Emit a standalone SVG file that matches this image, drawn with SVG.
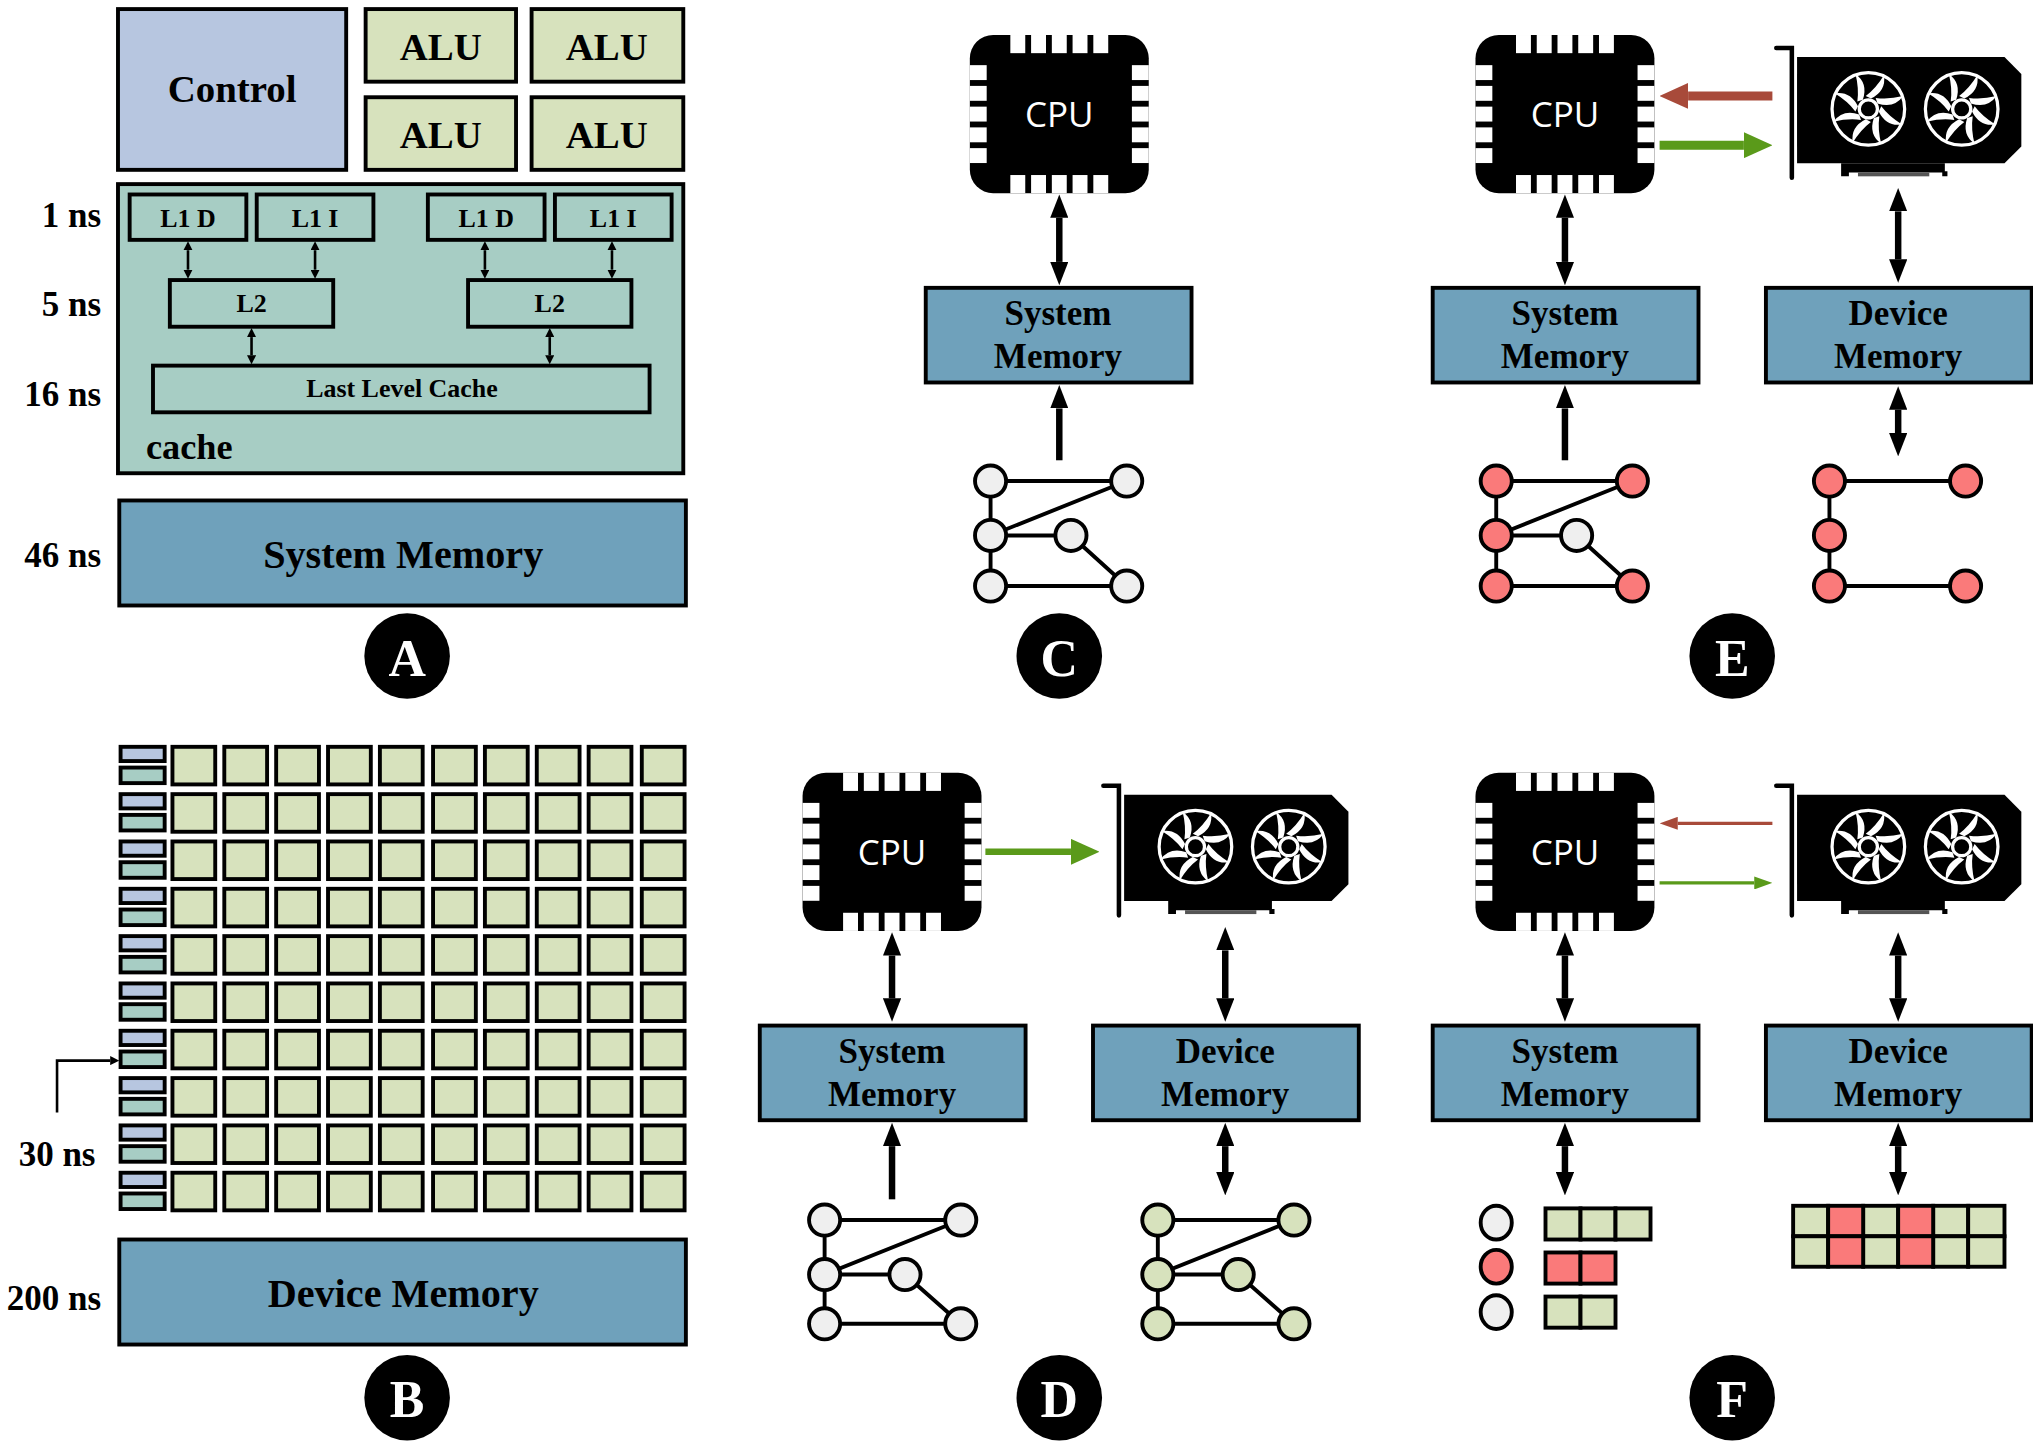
<svg xmlns="http://www.w3.org/2000/svg" xmlns:xlink="http://www.w3.org/1999/xlink" width="2033" height="1442" viewBox="0 0 2033 1442">
<style>
.b{stroke:#000;stroke-width:3}
.ctl{fill:#b7c6e0}.alu{fill:#d7e2bd}.cch{fill:#a7cdc4}.mem{fill:#6fa1bb}
.red{fill:#fa7a7a}.wht{fill:#efefef}
.t{font-family:"Liberation Serif",serif;font-weight:bold;fill:#000;text-anchor:middle}
.ar{stroke:#000;stroke-width:5;fill:none}
.sa{stroke:#000;stroke-width:2;fill:none}
.e{stroke:#000;stroke-width:3;fill:none}
</style>
<defs>
<marker id="ah" viewBox="0 0 18 14" markerWidth="18" markerHeight="14" refX="0" refY="7" orient="auto-start-reverse" markerUnits="userSpaceOnUse"><path d="M0,0 L18,7 L0,14 Z" fill="#000"/></marker>
<marker id="sh" viewBox="0 0 7 7" markerWidth="7" markerHeight="7" refX="0" refY="3.5" orient="auto-start-reverse" markerUnits="userSpaceOnUse"><path d="M0,0 L7,3.5 L0,7 Z" fill="#000"/></marker>
<marker id="rh" viewBox="0 0 22 20" markerWidth="22" markerHeight="20" refX="0" refY="10" orient="auto" markerUnits="userSpaceOnUse"><path d="M0,0 L22,10 L0,20 Z" fill="#a84a3a"/></marker>
<marker id="gh" viewBox="0 0 22 20" markerWidth="22" markerHeight="20" refX="0" refY="10" orient="auto" markerUnits="userSpaceOnUse"><path d="M0,0 L22,10 L0,20 Z" fill="#5a9a1a"/></marker>
<marker id="rs" viewBox="0 0 14 10" markerWidth="14" markerHeight="10" refX="0" refY="5" orient="auto" markerUnits="userSpaceOnUse"><path d="M0,0 L14,5 L0,10 Z" fill="#a84a3a"/></marker>
<marker id="gs" viewBox="0 0 14 10" markerWidth="14" markerHeight="10" refX="0" refY="5" orient="auto" markerUnits="userSpaceOnUse"><path d="M0,0 L14,5 L0,10 Z" fill="#5a9a1a"/></marker>
<g id="cpu">
<rect x="-69" y="-61" width="138" height="122" rx="18" fill="#000"/>
<g fill="#fff">
<rect x="-37.75" y="-61" width="11.5" height="14"/><rect x="-21.75" y="-61" width="11.5" height="14"/><rect x="-5.75" y="-61" width="11.5" height="14"/><rect x="10.25" y="-61" width="11.5" height="14"/><rect x="26.25" y="-61" width="11.5" height="14"/>
<rect x="-37.75" y="47" width="11.5" height="14"/><rect x="-21.75" y="47" width="11.5" height="14"/><rect x="-5.75" y="47" width="11.5" height="14"/><rect x="10.25" y="47" width="11.5" height="14"/><rect x="26.25" y="47" width="11.5" height="14"/>
<rect x="-69" y="-37.75" width="13" height="11.5"/><rect x="-69" y="-21.75" width="13" height="11.5"/><rect x="-69" y="-5.75" width="13" height="11.5"/><rect x="-69" y="10.25" width="13" height="11.5"/><rect x="-69" y="26.25" width="13" height="11.5"/>
<rect x="56" y="-37.75" width="13" height="11.5"/><rect x="56" y="-21.75" width="13" height="11.5"/><rect x="56" y="-5.75" width="13" height="11.5"/><rect x="56" y="10.25" width="13" height="11.5"/><rect x="56" y="26.25" width="13" height="11.5"/>
</g>
<text x="0" y="10" font-family="'Open Sans',sans-serif" font-size="27" fill="#fff" text-anchor="middle">CPU</text>
</g>
<g id="fan">
<circle r="28" fill="none" stroke="#fff" stroke-width="2.5"/>
<circle r="7" fill="none" stroke="#fff" stroke-width="2.5"/>
<g id="bl"><path d="M2,-8 Q14,-14 12,-26 Q6,-16 -2,-10 Z" fill="#fff"/></g>
<use xlink:href="#bl" transform="rotate(45)"/><use xlink:href="#bl" transform="rotate(90)"/><use xlink:href="#bl" transform="rotate(135)"/><use xlink:href="#bl" transform="rotate(180)"/><use xlink:href="#bl" transform="rotate(225)"/><use xlink:href="#bl" transform="rotate(270)"/><use xlink:href="#bl" transform="rotate(315)"/>
</g>
<g id="gpu">
<path d="M0,2 H12 V102" fill="none" stroke="#000" stroke-width="3.5" stroke-linecap="round"/>
<path d="M16,9 H176 L189,22 V78 L176,91 H16 Z" fill="#000"/>
<use xlink:href="#fan" x="71" y="49"/><use xlink:href="#fan" x="143" y="49"/>
<path d="M50,91 H130 V97 H132 V101 H128 V98 H56 V101 H50 Z" fill="#000"/>
<rect x="63" y="98" width="55" height="3" fill="#555"/>
</g>
</defs>
<g transform="scale(1.29656)">
<!-- Panel A -->
<g id="panelA">
<rect class="b ctl" x="91" y="7" width="176" height="124"/>
<text class="t" x="179" y="79" font-size="30">Control</text>
<rect class="b alu" x="282" y="7" width="116" height="56"/><text class="t" x="340" y="46" font-size="30">ALU</text>
<rect class="b alu" x="410" y="7" width="117" height="56"/><text class="t" x="468" y="46" font-size="30">ALU</text>
<rect class="b alu" x="282" y="75" width="116" height="56"/><text class="t" x="340" y="114" font-size="30">ALU</text>
<rect class="b alu" x="410" y="75" width="117" height="56"/><text class="t" x="468" y="114" font-size="30">ALU</text>
<rect class="b cch" x="91" y="142" width="436" height="223"/>
<rect class="b cch" x="100" y="150" width="90" height="35"/><text class="t" x="145" y="175" font-size="20">L1 D</text>
<rect class="b cch" x="198" y="150" width="90" height="35"/><text class="t" x="243" y="175" font-size="20">L1 I</text>
<rect class="b cch" x="330" y="150" width="90" height="35"/><text class="t" x="375" y="175" font-size="20">L1 D</text>
<rect class="b cch" x="428" y="150" width="90" height="35"/><text class="t" x="473" y="175" font-size="20">L1 I</text>
<rect class="b cch" x="131" y="216" width="126" height="36"/><text class="t" x="194" y="241" font-size="20">L2</text>
<rect class="b cch" x="361" y="216" width="126" height="36"/><text class="t" x="424" y="241" font-size="20">L2</text>
<rect class="b cch" x="118" y="282" width="383" height="36"/><text class="t" x="310" y="306" font-size="20">Last Level Cache</text>
<text class="t" x="146" y="354" font-size="28">cache</text>
<rect class="b mem" x="92" y="386" width="437" height="81"/>
<text class="t" x="311" y="438" font-size="31">System Memory</text>
<g class="t" font-size="27" text-anchor="end" style="text-anchor:end">
<text x="78" y="175">1 ns</text><text x="78" y="244">5 ns</text><text x="78" y="313">16 ns</text><text x="78" y="437">46 ns</text>
</g>
</g>
<!-- Panel B -->
<g id="panelB">
<g id="row">
<rect class="b ctl" x="93" y="576" width="34" height="11" stroke-width="2.5"/>
<rect class="b cch" x="93" y="592" width="34" height="12" stroke-width="2.5"/>
<g class="b alu">
<rect x="133" y="576" width="33" height="29"/><rect x="173" y="576" width="33" height="29"/><rect x="213" y="576" width="33" height="29"/><rect x="253" y="576" width="33" height="29"/><rect x="293" y="576" width="33" height="29"/><rect x="334" y="576" width="33" height="29"/><rect x="374" y="576" width="33" height="29"/><rect x="414" y="576" width="33" height="29"/><rect x="454" y="576" width="33" height="29"/><rect x="495" y="576" width="33" height="29"/>
</g>
</g>
<use xlink:href="#row" y="36.5"/><use xlink:href="#row" y="73"/><use xlink:href="#row" y="109.5"/><use xlink:href="#row" y="146"/><use xlink:href="#row" y="182.5"/><use xlink:href="#row" y="219"/><use xlink:href="#row" y="255.5"/><use xlink:href="#row" y="292"/><use xlink:href="#row" y="328.5"/>
<rect class="b mem" x="92" y="956" width="437" height="81"/>
<text class="t" x="311" y="1008" font-size="31">Device Memory</text>
<text class="t" x="44" y="899" font-size="27">30 ns</text>
<text class="t" x="78" y="1010" font-size="27" style="text-anchor:end">200 ns</text>
</g>
<!-- Labels -->
<g id="labels">
<circle cx="314" cy="506" r="33"/><text x="314" y="521" class="t" font-size="40" fill="#fff" style="fill:#fff">A</text>
<circle cx="817" cy="506" r="33"/><text x="817" y="521" class="t" font-size="40" style="fill:#fff">C</text>
<circle cx="1336" cy="506" r="33"/><text x="1336" y="521" class="t" font-size="40" style="fill:#fff">E</text>
<circle cx="314" cy="1078" r="33"/><text x="314" y="1093" class="t" font-size="40" style="fill:#fff">B</text>
<circle cx="817" cy="1078" r="33"/><text x="817" y="1093" class="t" font-size="40" style="fill:#fff">D</text>
<circle cx="1336" cy="1078" r="33"/><text x="1336" y="1093" class="t" font-size="40" style="fill:#fff">F</text>
</g>
<!-- Nodes C/D/E/F -->
<g id="cpuC"><use xlink:href="#cpu" x="817" y="88"/></g>
<g id="cpuE"><use xlink:href="#cpu" x="1207" y="88"/></g>
<g id="cpuD"><use xlink:href="#cpu" x="688" y="657"/></g>
<g id="cpuF"><use xlink:href="#cpu" x="1207" y="657"/></g>
<g id="gpuE"><use xlink:href="#gpu" x="1370" y="35"/></g>
<g id="gpuD"><use xlink:href="#gpu" x="851" y="604"/></g>
<g id="gpuF"><use xlink:href="#gpu" x="1370" y="604"/></g>
<g id="memC"><rect class="b mem" x="714" y="222" width="205" height="73"/><text class="t" x="816" y="251" font-size="27">System</text><text class="t" x="816" y="284" font-size="27">Memory</text></g>
<g id="memE"><rect class="b mem" x="1105" y="222" width="205" height="73"/><text class="t" x="1207" y="251" font-size="27">System</text><text class="t" x="1207" y="284" font-size="27">Memory</text></g>
<g id="devE"><rect class="b mem" x="1362" y="222" width="205" height="73"/><text class="t" x="1464" y="251" font-size="27">Device</text><text class="t" x="1464" y="284" font-size="27">Memory</text></g>
<g id="memD"><rect class="b mem" x="586" y="791" width="205" height="73"/><text class="t" x="688" y="820" font-size="27">System</text><text class="t" x="688" y="853" font-size="27">Memory</text></g>
<g id="devD"><rect class="b mem" x="843" y="791" width="205" height="73"/><text class="t" x="945" y="820" font-size="27">Device</text><text class="t" x="945" y="853" font-size="27">Memory</text></g>
<g id="memF"><rect class="b mem" x="1105" y="791" width="205" height="73"/><text class="t" x="1207" y="820" font-size="27">System</text><text class="t" x="1207" y="853" font-size="27">Memory</text></g>
<g id="devF"><rect class="b mem" x="1362" y="791" width="205" height="73"/><text class="t" x="1464" y="820" font-size="27">Device</text><text class="t" x="1464" y="853" font-size="27">Memory</text></g>
<!-- graphs -->
<g id="graphC">
<path class="e" d="M764,371 H869 M764,371 V452 H869 M764,413 L869,371 M764,413 H826 L869,452"/>
<g class="b wht"><circle cx="764" cy="371" r="12"/><circle cx="869" cy="371" r="12"/><circle cx="764" cy="413" r="12"/><circle cx="826" cy="413" r="12"/><circle cx="764" cy="452" r="12"/><circle cx="869" cy="452" r="12"/></g>
</g>
<g id="graphE">
<path class="e" d="M1154,371 H1259 M1154,371 V452 H1259 M1154,413 L1259,371 M1154,413 H1216 L1259,452"/>
<g class="b red"><circle cx="1154" cy="371" r="12"/><circle cx="1259" cy="371" r="12"/><circle cx="1154" cy="413" r="12"/><circle cx="1154" cy="452" r="12"/><circle cx="1259" cy="452" r="12"/></g>
<circle class="b wht" cx="1216" cy="413" r="12"/>
</g>
<g id="graphE2">
<path class="e" d="M1411,371 H1516 M1411,371 V452 H1516"/>
<g class="b red"><circle cx="1411" cy="371" r="12"/><circle cx="1516" cy="371" r="12"/><circle cx="1411" cy="413" r="12"/><circle cx="1411" cy="452" r="12"/><circle cx="1516" cy="452" r="12"/></g>
</g>
<g id="graphD">
<path class="e" d="M636,941 H741 M636,941 V1021 H741 M636,983 L741,941 M636,983 H698 L741,1021"/>
<g class="b wht"><circle cx="636" cy="941" r="12"/><circle cx="741" cy="941" r="12"/><circle cx="636" cy="983" r="12"/><circle cx="698" cy="983" r="12"/><circle cx="636" cy="1021" r="12"/><circle cx="741" cy="1021" r="12"/></g>
</g>
<g id="graphD2">
<path class="e" d="M893,941 H998 M893,941 V1021 H998 M893,983 L998,941 M893,983 H955 L998,1021"/>
<g class="b alu"><circle cx="893" cy="941" r="12"/><circle cx="998" cy="941" r="12"/><circle cx="893" cy="983" r="12"/><circle cx="955" cy="983" r="12"/><circle cx="893" cy="1021" r="12"/><circle cx="998" cy="1021" r="12"/></g>
</g>
<g id="listF">
<ellipse class="b wht" cx="1154" cy="943" rx="12" ry="13"/><ellipse class="b red" cx="1154" cy="977" rx="12" ry="13"/><ellipse class="b wht" cx="1154" cy="1012" rx="12" ry="13"/>
<g class="b alu"><rect x="1192" y="932" width="27" height="24"/><rect x="1219" y="932" width="27" height="24"/><rect x="1246" y="932" width="27" height="24"/><rect x="1192" y="1000" width="27" height="24"/><rect x="1219" y="1000" width="27" height="24"/></g>
<g class="b red"><rect x="1192" y="966" width="27" height="24"/><rect x="1219" y="966" width="27" height="24"/></g>
</g>
<g id="gridF">
<g class="b alu"><rect x="1383" y="930" width="27" height="23.5"/><rect x="1437" y="930" width="27" height="23.5"/><rect x="1491" y="930" width="27" height="23.5"/><rect x="1518" y="930" width="28" height="23.5"/>
<rect x="1383" y="953.5" width="27" height="23.5"/><rect x="1437" y="953.5" width="27" height="23.5"/><rect x="1491" y="953.5" width="27" height="23.5"/><rect x="1518" y="953.5" width="28" height="23.5"/></g>
<g class="b red"><rect x="1410" y="930" width="27" height="23.5"/><rect x="1464" y="930" width="27" height="23.5"/><rect x="1410" y="953.5" width="27" height="23.5"/><rect x="1464" y="953.5" width="27" height="23.5"/></g>
</g>
<!-- connectors -->
<g id="connectors">
<g class="sa" marker-start="url(#sh)" marker-end="url(#sh)">
<line x1="145" y1="193" x2="145" y2="208"/><line x1="243" y1="193" x2="243" y2="208"/><line x1="374" y1="193" x2="374" y2="208"/><line x1="472" y1="193" x2="472" y2="208"/>
<line x1="194" y1="260" x2="194" y2="274"/><line x1="424" y1="260" x2="424" y2="274"/>
</g>
<path class="sa" d="M44,858 V818 H85" stroke-width="2.5" marker-end="url(#sh)"/>
<g class="ar" marker-start="url(#ah)" marker-end="url(#ah)">
<line x1="817" y1="168" x2="817" y2="202"/>
<line x1="1207" y1="168" x2="1207" y2="202"/>
<line x1="1464" y1="163" x2="1464" y2="200"/>
<line x1="1464" y1="316" x2="1464" y2="334"/>
<line x1="688" y1="737" x2="688" y2="770"/>
<line x1="945" y1="733" x2="945" y2="770"/>
<line x1="945" y1="884" x2="945" y2="904"/>
<line x1="1207" y1="737" x2="1207" y2="770"/>
<line x1="1464" y1="737" x2="1464" y2="770"/>
<line x1="1207" y1="884" x2="1207" y2="904"/>
<line x1="1464" y1="884" x2="1464" y2="904"/>
</g>
<g class="ar" marker-end="url(#ah)">
<line x1="817" y1="355" x2="817" y2="315"/>
<line x1="1207" y1="355" x2="1207" y2="315"/>
<line x1="688" y1="925" x2="688" y2="884"/>
</g>
<line x1="1367" y1="74" x2="1302" y2="74" stroke="#a84a3a" stroke-width="7" marker-end="url(#rh)"/>
<line x1="1280" y1="112" x2="1345" y2="112" stroke="#5a9a1a" stroke-width="7" marker-end="url(#gh)"/>
<line x1="760" y1="657" x2="826" y2="657" stroke="#5a9a1a" stroke-width="5" marker-end="url(#gh)"/>
<line x1="1367" y1="635" x2="1294" y2="635" stroke="#a84a3a" stroke-width="2.5" marker-end="url(#rs)"/>
<line x1="1280" y1="681" x2="1353" y2="681" stroke="#5a9a1a" stroke-width="2.5" marker-end="url(#gs)"/>
</g>
</g>
</svg>
